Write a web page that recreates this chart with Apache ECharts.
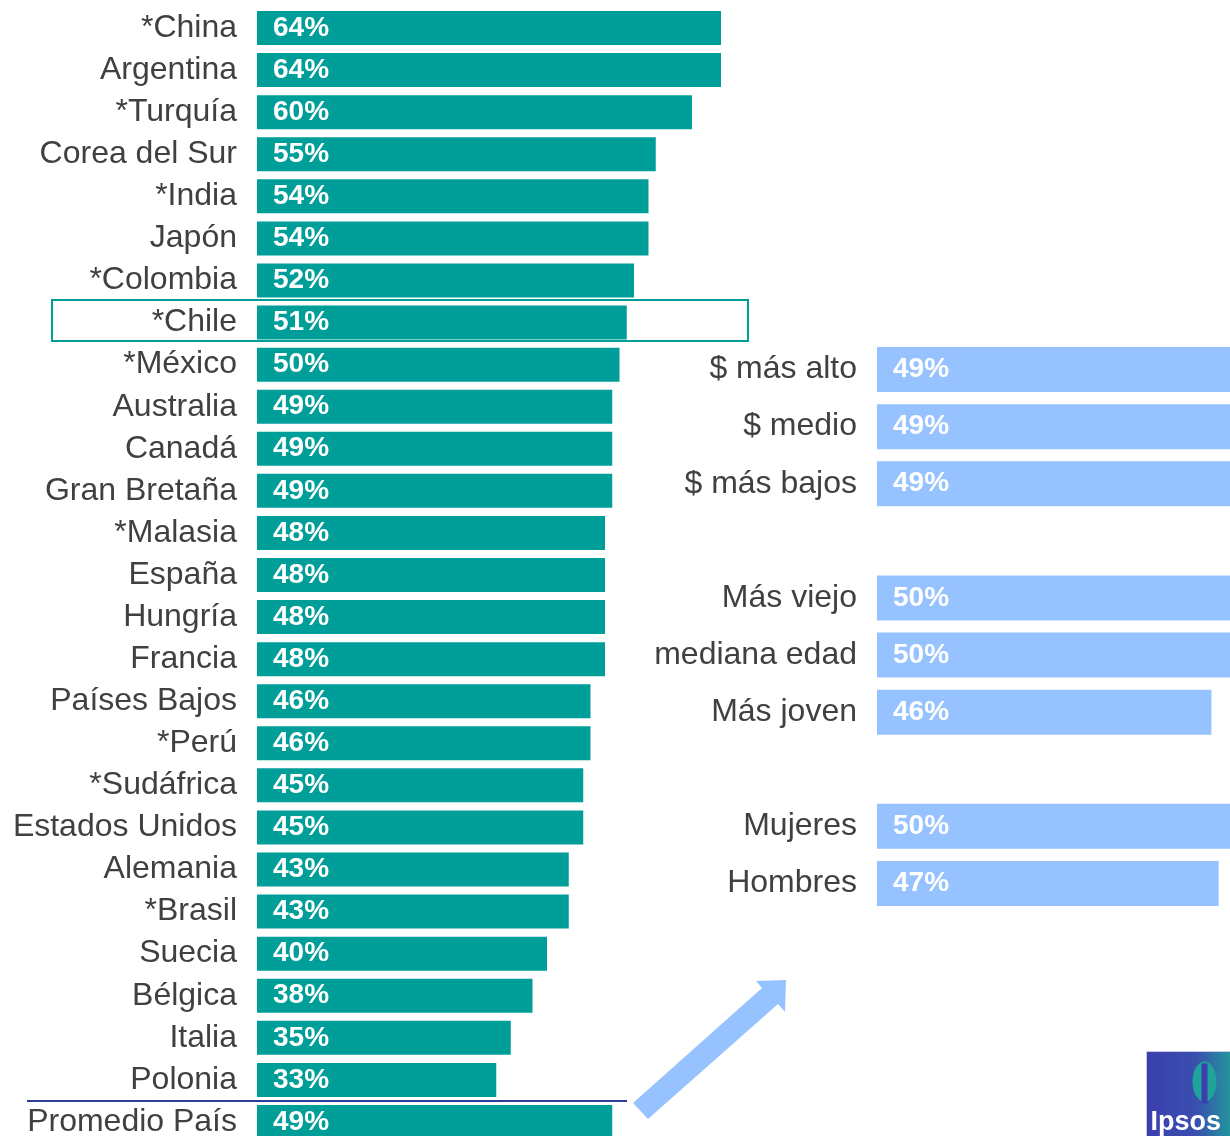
<!DOCTYPE html>
<html>
<head>
<meta charset="utf-8">
<script src="https://cdn.jsdelivr.net/npm/echarts@6/dist/echarts.min.js"></script>
<style>
  html, body { margin: 0; padding: 0; background: #fff; }
  #chart { width: 1230px; height: 1136px; }
</style>
</head>
<body>
<div id="chart"></div>
<script>
// countries, top to bottom
const countries = [
  "*China", "Argentina", "*Turquía", "Corea del Sur", "*India", "Japón",
  "*Colombia", "*Chile", "*México", "Australia", "Canadá", "Gran Bretaña",
  "*Malasia", "España", "Hungría", "Francia", "Países Bajos", "*Perú",
  "*Sudáfrica", "Estados Unidos", "Alemania", "*Brasil", "Suecia",
  "Bélgica", "Italia", "Polonia", "Promedio País"
];
const countryValues = [
  64, 64, 60, 55, 54, 54, 52, 51, 50, 49, 49, 49, 48, 48, 48, 48,
  46, 46, 45, 45, 43, 43, 40, 38, 35, 33, 49
];

// Chile breakdown (blank slots separate the groups)
const groups = [
  "$ más alto", "$ medio", "$ más bajos", " ",
  "Más viejo", "mediana edad", "Más joven", "  ",
  "Mujeres", "Hombres"
];
const groupValues = [49, 49, 49, null, 50, 50, 46, null, 50, 47];

const TEAL = "#009e99";
const LIGHT_BLUE = "#96c3ff";
const TEXT = "#404040";
const FONT = "'Liberation Sans', Arial, sans-serif";

const chart = echarts.init(document.getElementById("chart"));

const valueLabel = {
  show: true,
  position: "insideLeft",
  distance: 16,
  formatter: "{c}%",
  color: "#fff",
  fontWeight: "bold",
  fontSize: 28,
  fontFamily: FONT
};

const catLabel = {
  color: TEXT,
  fontSize: 32,
  fontFamily: FONT,
  margin: 20
};

chart.setOption({
  animation: false,
  grid: [
    { left: 257, top: 7, width: 725, height: 1136, outerBoundsMode: "none" },
    { left: 877, top: 341, width: 727, height: 571, outerBoundsMode: "none" }
  ],
  xAxis: [
    { gridIndex: 0, type: "value", min: 0, max: 100, show: false },
    { gridIndex: 1, type: "value", min: 0, max: 100, show: false }
  ],
  yAxis: [
    {
      gridIndex: 0, type: "category", inverse: true, data: countries,
      axisLine: { show: false }, axisTick: { show: false },
      axisLabel: catLabel
    },
    {
      gridIndex: 1, type: "category", inverse: true, data: groups,
      axisLine: { show: false }, axisTick: { show: false },
      axisLabel: catLabel
    }
  ],
  series: [
    {
      type: "bar", xAxisIndex: 0, yAxisIndex: 0,
      data: countryValues, barWidth: 34,
      itemStyle: { color: TEAL },
      label: valueLabel
    },
    {
      type: "bar", xAxisIndex: 1, yAxisIndex: 1,
      data: groupValues, barWidth: 45,
      itemStyle: { color: LIGHT_BLUE },
      label: valueLabel
    }
  ],
  graphic: [
    // Chile highlight box
    {
      type: "rect", shape: { x: 52, y: 300, width: 696, height: 41 },
      style: { fill: "none", stroke: TEAL, lineWidth: 2 }, z: 10
    },
    // separator above the average
    {
      type: "line", shape: { x1: 27, y1: 1101, x2: 627, y2: 1101 },
      style: { stroke: "#2e3d99", lineWidth: 2 }
    },
    // arrow towards the breakdown
    {
      type: "polygon",
      shape: {
        points: [[633, 1103], [762, 988], [756, 981], [786, 980],
                 [785, 1012], [778, 1004], [648, 1119]]
      },
      style: { fill: LIGHT_BLUE }
    },
    // Ipsos logo
    {
      type: "group", left: 1146, top: 1051,
      children: [
        {
          type: "rect", shape: { x: 0, y: 0, width: 90, height: 90 },
          style: {
            fill: new echarts.graphic.LinearGradient(0, 0, 1, 0, [
              { offset: 0, color: "#3b3fae" },
              { offset: 0.55, color: "#3a4fae" },
              { offset: 1, color: "#1fa39a" }
            ]),
            stroke: "#c8c8e8", lineWidth: 1
          }
        },
        {
          type: "ellipse", shape: { cx: 58, cy: 30, rx: 12, ry: 20 },
          style: { fill: "#1fa39a" }
        },
        {
          type: "rect", shape: { x: 55, y: 12, width: 6, height: 40 },
          style: { fill: "#3b3fae" }
        },
        {
          type: "text", x: 4, y: 58,
          style: {
            text: "Ipsos", fill: "#fff", fontSize: 27,
            fontWeight: "bold", fontFamily: FONT
          }
        }
      ]
    }
  ]
});
</script>
</body>
</html>
